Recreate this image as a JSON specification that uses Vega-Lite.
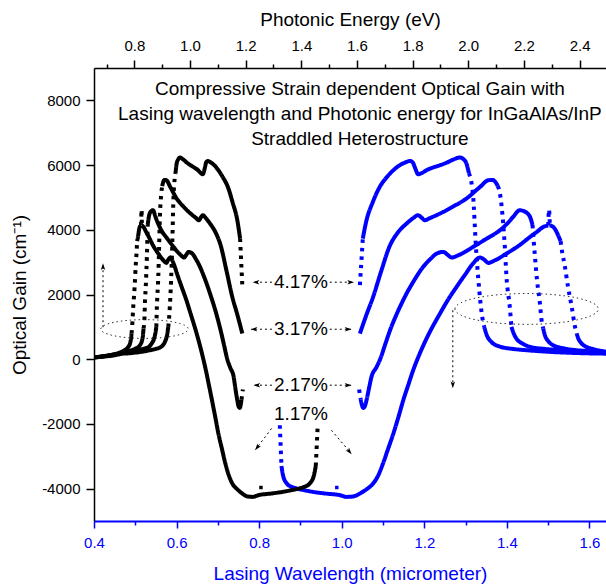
{
"$schema": "https://vega.github.io/schema/vega-lite/v6.json",
"width": 512, "height": 453,
"autosize": {"type": "none"},
"padding": {"left": 94, "top": 68, "right": 0, "bottom": 65},
"background": "white",
"config": {"font": "Liberation Sans", "view": {"stroke": null}, "axis": {"grid": false, "labelFont": "Liberation Sans", "titleFont": "Liberation Sans", "titleFontWeight": "normal", "labelFlush": false, "labelOverlap": false, "domainWidth": 1.5, "tickWidth": 1.5}},
"datasets": {
"curves": [
{"c":"4.17","k":1,"p":"steep","lam":1.044,"E":1.188,"g":2287},
{"c":"4.17","k":1,"p":"steep","lam":1.051,"E":1.180,"g":3730},
{"c":"4.17","k":2,"p":"gentle","lam":1.051,"E":1.180,"g":3730},
{"c":"4.17","k":2,"p":"gentle","lam":1.060,"E":1.170,"g":4295},
{"c":"4.17","k":2,"p":"gentle","lam":1.075,"E":1.153,"g":4850},
{"c":"4.17","k":2,"p":"gentle","lam":1.092,"E":1.136,"g":5325},
{"c":"4.17","k":2,"p":"gentle","lam":1.110,"E":1.117,"g":5640},
{"c":"4.17","k":2,"p":"gentle","lam":1.125,"E":1.102,"g":5840},
{"c":"4.17","k":2,"p":"gentle","lam":1.140,"E":1.088,"g":5990},
{"c":"4.17","k":2,"p":"gentle","lam":1.157,"E":1.072,"g":6097},
{"c":"4.17","k":2,"p":"gentle","lam":1.165,"E":1.064,"g":6128},
{"c":"4.17","k":2,"p":"gentle","lam":1.172,"E":1.058,"g":6080},
{"c":"4.17","k":2,"p":"gentle","lam":1.178,"E":1.053,"g":5900},
{"c":"4.17","k":2,"p":"gentle","lam":1.185,"E":1.046,"g":5717},
{"c":"4.17","k":2,"p":"gentle","lam":1.195,"E":1.038,"g":5760},
{"c":"4.17","k":2,"p":"gentle","lam":1.205,"E":1.029,"g":5840},
{"c":"4.17","k":2,"p":"gentle","lam":1.220,"E":1.016,"g":5920},
{"c":"4.17","k":2,"p":"gentle","lam":1.238,"E":1.002,"g":5995},
{"c":"4.17","k":2,"p":"gentle","lam":1.255,"E":0.988,"g":6080},
{"c":"4.17","k":2,"p":"gentle","lam":1.270,"E":0.976,"g":6170},
{"c":"4.17","k":2,"p":"gentle","lam":1.286,"E":0.964,"g":6233},
{"c":"4.17","k":2,"p":"gentle","lam":1.295,"E":0.958,"g":6180},
{"c":"4.17","k":2,"p":"gentle","lam":1.302,"E":0.952,"g":6047},
{"c":"4.17","k":2,"p":"gentle","lam":1.308,"E":0.948,"g":5750},
{"c":"4.17","k":3,"p":"steep","lam":1.308,"E":0.948,"g":5750},
{"c":"4.17","k":3,"p":"steep","lam":1.318,"E":0.941,"g":5068},
{"c":"4.17","k":3,"p":"steep","lam":1.325,"E":0.936,"g":3470},
{"c":"4.17","k":3,"p":"steep","lam":1.331,"E":0.932,"g":2441},
{"c":"4.17","k":3,"p":"steep","lam":1.339,"E":0.926,"g":1412},
{"c":"4.17","k":3,"p":"steep","lam":1.345,"E":0.922,"g":1000},
{"c":"4.17","k":4,"p":"gentle","lam":1.345,"E":0.922,"g":1000},
{"c":"4.17","k":4,"p":"gentle","lam":1.352,"E":0.917,"g":720},
{"c":"4.17","k":4,"p":"gentle","lam":1.362,"E":0.910,"g":540},
{"c":"4.17","k":4,"p":"gentle","lam":1.383,"E":0.897,"g":390},
{"c":"4.17","k":4,"p":"gentle","lam":1.420,"E":0.873,"g":310},
{"c":"4.17","k":4,"p":"gentle","lam":1.448,"E":0.856,"g":278},
{"c":"4.17","k":4,"p":"gentle","lam":1.500,"E":0.827,"g":230},
{"c":"4.17","k":4,"p":"gentle","lam":1.550,"E":0.800,"g":200},
{"c":"4.17","k":4,"p":"gentle","lam":1.600,"E":0.775,"g":180},
{"c":"4.17","k":4,"p":"gentle","lam":1.640,"E":0.756,"g":170},
{"c":"4.17","k":4,"p":"gentle","lam":1.700,"E":0.729,"g":120},
{"c":"4.17","k":4,"p":"gentle","lam":1.800,"E":0.689,"g":80},
{"c":"4.17","k":4,"p":"gentle","lam":1.950,"E":0.636,"g":40},

{"c":"3.17","k":1,"p":"gentle","lam":1.044,"E":1.188,"g":794},
{"c":"3.17","k":1,"p":"gentle","lam":1.060,"E":1.170,"g":1380},
{"c":"3.17","k":1,"p":"gentle","lam":1.076,"E":1.152,"g":1925},
{"c":"3.17","k":1,"p":"gentle","lam":1.095,"E":1.132,"g":2700},
{"c":"3.17","k":1,"p":"gentle","lam":1.117,"E":1.110,"g":3523},
{"c":"3.17","k":1,"p":"gentle","lam":1.135,"E":1.093,"g":3900},
{"c":"3.17","k":1,"p":"gentle","lam":1.157,"E":1.072,"g":4193},
{"c":"3.17","k":1,"p":"gentle","lam":1.172,"E":1.058,"g":4350},
{"c":"3.17","k":1,"p":"gentle","lam":1.185,"E":1.046,"g":4450},
{"c":"3.17","k":1,"p":"gentle","lam":1.193,"E":1.039,"g":4380},
{"c":"3.17","k":1,"p":"gentle","lam":1.201,"E":1.032,"g":4295},
{"c":"3.17","k":1,"p":"gentle","lam":1.215,"E":1.021,"g":4370},
{"c":"3.17","k":1,"p":"gentle","lam":1.238,"E":1.002,"g":4502},
{"c":"3.17","k":1,"p":"gentle","lam":1.270,"E":0.976,"g":4720},
{"c":"3.17","k":1,"p":"gentle","lam":1.302,"E":0.952,"g":4966},
{"c":"3.17","k":1,"p":"gentle","lam":1.335,"E":0.929,"g":5325},
{"c":"3.17","k":1,"p":"gentle","lam":1.355,"E":0.915,"g":5532},
{"c":"3.17","k":1,"p":"gentle","lam":1.365,"E":0.908,"g":5540},
{"c":"3.17","k":1,"p":"gentle","lam":1.372,"E":0.904,"g":5480},
{"c":"3.17","k":1,"p":"gentle","lam":1.378,"E":0.900,"g":5350},
{"c":"3.17","k":2,"p":"steep","lam":1.378,"E":0.900,"g":5350},
{"c":"3.17","k":2,"p":"steep","lam":1.383,"E":0.897,"g":5130},
{"c":"3.17","k":2,"p":"steep","lam":1.391,"E":0.891,"g":4193},
{"c":"3.17","k":2,"p":"steep","lam":1.395,"E":0.889,"g":3470},
{"c":"3.17","k":2,"p":"steep","lam":1.399,"E":0.886,"g":2543},
{"c":"3.17","k":2,"p":"steep","lam":1.407,"E":0.881,"g":1616},
{"c":"3.17","k":2,"p":"steep","lam":1.411,"E":0.879,"g":998},
{"c":"3.17","k":3,"p":"gentle","lam":1.411,"E":0.879,"g":998},
{"c":"3.17","k":3,"p":"gentle","lam":1.417,"E":0.875,"g":780},
{"c":"3.17","k":3,"p":"gentle","lam":1.423,"E":0.871,"g":640},
{"c":"3.17","k":3,"p":"gentle","lam":1.440,"E":0.861,"g":470},
{"c":"3.17","k":3,"p":"gentle","lam":1.456,"E":0.852,"g":380},
{"c":"3.17","k":3,"p":"gentle","lam":1.490,"E":0.832,"g":320},
{"c":"3.17","k":3,"p":"gentle","lam":1.528,"E":0.812,"g":278},
{"c":"3.17","k":3,"p":"gentle","lam":1.580,"E":0.785,"g":230},
{"c":"3.17","k":3,"p":"gentle","lam":1.640,"E":0.756,"g":190},
{"c":"3.17","k":3,"p":"gentle","lam":1.700,"E":0.729,"g":140},
{"c":"3.17","k":3,"p":"gentle","lam":1.800,"E":0.689,"g":90},
{"c":"3.17","k":3,"p":"gentle","lam":1.950,"E":0.636,"g":40},

{"c":"2.17","k":1,"p":"steep","lam":1.042,"E":1.190,"g":-937},
{"c":"2.17","k":1,"p":"steep","lam":1.046,"E":1.185,"g":-1250},
{"c":"2.17","k":2,"p":"gentle","lam":1.046,"E":1.185,"g":-1250},
{"c":"2.17","k":2,"p":"gentle","lam":1.049,"E":1.182,"g":-1420},
{"c":"2.17","k":2,"p":"gentle","lam":1.052,"E":1.179,"g":-1504},
{"c":"2.17","k":2,"p":"gentle","lam":1.056,"E":1.174,"g":-1450},
{"c":"2.17","k":2,"p":"gentle","lam":1.060,"E":1.170,"g":-1267},
{"c":"2.17","k":2,"p":"gentle","lam":1.066,"E":1.163,"g":-900},
{"c":"2.17","k":2,"p":"gentle","lam":1.072,"E":1.157,"g":-547},
{"c":"2.17","k":2,"p":"gentle","lam":1.084,"E":1.144,"g":-250},
{"c":"2.17","k":2,"p":"gentle","lam":1.093,"E":1.134,"g":0},
{"c":"2.17","k":2,"p":"gentle","lam":1.105,"E":1.122,"g":450},
{"c":"2.17","k":2,"p":"gentle","lam":1.117,"E":1.110,"g":896},
{"c":"2.17","k":2,"p":"gentle","lam":1.135,"E":1.093,"g":1450},
{"c":"2.17","k":2,"p":"gentle","lam":1.157,"E":1.072,"g":2030},
{"c":"2.17","k":2,"p":"gentle","lam":1.177,"E":1.054,"g":2470},
{"c":"2.17","k":2,"p":"gentle","lam":1.197,"E":1.036,"g":2852},
{"c":"2.17","k":2,"p":"gentle","lam":1.215,"E":1.021,"g":3100},
{"c":"2.17","k":2,"p":"gentle","lam":1.230,"E":1.008,"g":3266},
{"c":"2.17","k":2,"p":"gentle","lam":1.246,"E":0.995,"g":3316},
{"c":"2.17","k":2,"p":"gentle","lam":1.256,"E":0.987,"g":3230},
{"c":"2.17","k":2,"p":"gentle","lam":1.266,"E":0.979,"g":3143},
{"c":"2.17","k":2,"p":"gentle","lam":1.280,"E":0.969,"g":3200},
{"c":"2.17","k":2,"p":"gentle","lam":1.300,"E":0.954,"g":3330},
{"c":"2.17","k":2,"p":"gentle","lam":1.318,"E":0.941,"g":3470},
{"c":"2.17","k":2,"p":"gentle","lam":1.350,"E":0.919,"g":3720},
{"c":"2.17","k":2,"p":"gentle","lam":1.383,"E":0.897,"g":3986},
{"c":"2.17","k":2,"p":"gentle","lam":1.400,"E":0.886,"g":4180},
{"c":"2.17","k":2,"p":"gentle","lam":1.415,"E":0.876,"g":4397},
{"c":"2.17","k":2,"p":"gentle","lam":1.431,"E":0.867,"g":4604},
{"c":"2.17","k":2,"p":"gentle","lam":1.445,"E":0.858,"g":4550},
{"c":"2.17","k":2,"p":"gentle","lam":1.456,"E":0.852,"g":4397},
{"c":"2.17","k":2,"p":"gentle","lam":1.462,"E":0.848,"g":4150},
{"c":"2.17","k":3,"p":"steep","lam":1.462,"E":0.848,"g":4150},
{"c":"2.17","k":3,"p":"steep","lam":1.468,"E":0.845,"g":3161},
{"c":"2.17","k":3,"p":"steep","lam":1.473,"E":0.842,"g":2441},
{"c":"2.17","k":3,"p":"steep","lam":1.480,"E":0.838,"g":1721},
{"c":"2.17","k":3,"p":"steep","lam":1.484,"E":0.836,"g":1205},
{"c":"2.17","k":3,"p":"steep","lam":1.488,"E":0.833,"g":950},
{"c":"2.17","k":4,"p":"gentle","lam":1.488,"E":0.833,"g":950},
{"c":"2.17","k":4,"p":"gentle","lam":1.492,"E":0.831,"g":742},
{"c":"2.17","k":4,"p":"gentle","lam":1.500,"E":0.827,"g":560},
{"c":"2.17","k":4,"p":"gentle","lam":1.512,"E":0.820,"g":433},
{"c":"2.17","k":4,"p":"gentle","lam":1.540,"E":0.805,"g":330},
{"c":"2.17","k":4,"p":"gentle","lam":1.569,"E":0.790,"g":278},
{"c":"2.17","k":4,"p":"gentle","lam":1.600,"E":0.775,"g":250},
{"c":"2.17","k":4,"p":"gentle","lam":1.640,"E":0.756,"g":210},
{"c":"2.17","k":4,"p":"gentle","lam":1.700,"E":0.729,"g":150},
{"c":"2.17","k":4,"p":"gentle","lam":1.800,"E":0.689,"g":90},
{"c":"2.17","k":4,"p":"gentle","lam":1.950,"E":0.636,"g":40},

{"c":"1.17","k":1,"p":"steep","lam":0.850,"E":1.459,"g":-2040},
{"c":"1.17","k":1,"p":"steep","lam":0.854,"E":1.452,"g":-3300},
{"c":"1.17","k":2,"p":"gentle","lam":0.854,"E":1.452,"g":-3300},
{"c":"1.17","k":2,"p":"gentle","lam":0.858,"E":1.445,"g":-3600},
{"c":"1.17","k":2,"p":"gentle","lam":0.867,"E":1.430,"g":-3842},
{"c":"1.17","k":2,"p":"gentle","lam":0.880,"E":1.409,"g":-3950},
{"c":"1.17","k":2,"p":"gentle","lam":0.891,"E":1.392,"g":-3996},
{"c":"1.17","k":2,"p":"gentle","lam":0.910,"E":1.363,"g":-4050},
{"c":"1.17","k":2,"p":"gentle","lam":0.931,"E":1.332,"g":-4101},
{"c":"1.17","k":2,"p":"gentle","lam":0.960,"E":1.292,"g":-4150},
{"c":"1.17","k":2,"p":"gentle","lam":0.996,"E":1.245,"g":-4203},
{"c":"1.17","k":2,"p":"gentle","lam":1.012,"E":1.225,"g":-4255},
{"c":"1.17","k":2,"p":"gentle","lam":1.028,"E":1.206,"g":-4240},
{"c":"1.17","k":2,"p":"gentle","lam":1.044,"E":1.188,"g":-4152},
{"c":"1.17","k":2,"p":"gentle","lam":1.060,"E":1.170,"g":-4020},
{"c":"1.17","k":2,"p":"gentle","lam":1.076,"E":1.152,"g":-3842},
{"c":"1.17","k":2,"p":"gentle","lam":1.088,"E":1.140,"g":-3600},
{"c":"1.17","k":2,"p":"gentle","lam":1.100,"E":1.127,"g":-3220},
{"c":"1.17","k":2,"p":"gentle","lam":1.112,"E":1.115,"g":-2780},
{"c":"1.17","k":2,"p":"gentle","lam":1.125,"E":1.102,"g":-2296},
{"c":"1.17","k":2,"p":"gentle","lam":1.137,"E":1.091,"g":-1800},
{"c":"1.17","k":2,"p":"gentle","lam":1.149,"E":1.079,"g":-1267},
{"c":"1.17","k":2,"p":"gentle","lam":1.161,"E":1.068,"g":-800},
{"c":"1.17","k":2,"p":"gentle","lam":1.173,"E":1.057,"g":-340},
{"c":"1.17","k":2,"p":"gentle","lam":1.189,"E":1.043,"g":176},
{"c":"1.17","k":2,"p":"gentle","lam":1.210,"E":1.025,"g":760},
{"c":"1.17","k":2,"p":"gentle","lam":1.238,"E":1.002,"g":1412},
{"c":"1.17","k":2,"p":"gentle","lam":1.258,"E":0.986,"g":1850},
{"c":"1.17","k":2,"p":"gentle","lam":1.278,"E":0.970,"g":2234},
{"c":"1.17","k":2,"p":"gentle","lam":1.298,"E":0.955,"g":2600},
{"c":"1.17","k":2,"p":"gentle","lam":1.318,"E":0.941,"g":2957},
{"c":"1.17","k":2,"p":"gentle","lam":1.335,"E":0.929,"g":3143},
{"c":"1.17","k":2,"p":"gentle","lam":1.345,"E":0.922,"g":3080},
{"c":"1.17","k":2,"p":"gentle","lam":1.355,"E":0.915,"g":2977},
{"c":"1.17","k":2,"p":"gentle","lam":1.370,"E":0.905,"g":3050},
{"c":"1.17","k":2,"p":"gentle","lam":1.399,"E":0.886,"g":3266},
{"c":"1.17","k":2,"p":"gentle","lam":1.430,"E":0.867,"g":3520},
{"c":"1.17","k":2,"p":"gentle","lam":1.456,"E":0.852,"g":3779},
{"c":"1.17","k":2,"p":"gentle","lam":1.475,"E":0.841,"g":3960},
{"c":"1.17","k":2,"p":"gentle","lam":1.488,"E":0.833,"g":4088},
{"c":"1.17","k":2,"p":"gentle","lam":1.500,"E":0.827,"g":4130},
{"c":"1.17","k":3,"p":"steep","lam":1.500,"E":0.827,"g":4130},
{"c":"1.17","k":3,"p":"steep","lam":1.502,"E":0.826,"g":4620},
{"c":"1.17","k":3,"p":"steep","lam":1.504,"E":0.824,"g":4140},
{"c":"1.17","k":4,"p":"gentle","lam":1.504,"E":0.824,"g":4140},
{"c":"1.17","k":4,"p":"gentle","lam":1.515,"E":0.818,"g":4050},
{"c":"1.17","k":4,"p":"gentle","lam":1.524,"E":0.814,"g":3832},
{"c":"1.17","k":4,"p":"gentle","lam":1.530,"E":0.810,"g":3650},
{"c":"1.17","k":5,"p":"steep","lam":1.530,"E":0.810,"g":3650},
{"c":"1.17","k":5,"p":"steep","lam":1.534,"E":0.808,"g":3300},
{"c":"1.17","k":5,"p":"steep","lam":1.540,"E":0.805,"g":2900},
{"c":"1.17","k":5,"p":"steep","lam":1.548,"E":0.801,"g":2234},
{"c":"1.17","k":5,"p":"steep","lam":1.557,"E":0.796,"g":1616},
{"c":"1.17","k":5,"p":"steep","lam":1.565,"E":0.792,"g":998},
{"c":"1.17","k":5,"p":"steep","lam":1.569,"E":0.790,"g":800},
{"c":"1.17","k":6,"p":"gentle","lam":1.569,"E":0.790,"g":800},
{"c":"1.17","k":6,"p":"gentle","lam":1.573,"E":0.788,"g":640},
{"c":"1.17","k":6,"p":"gentle","lam":1.580,"E":0.785,"g":500},
{"c":"1.17","k":6,"p":"gentle","lam":1.593,"E":0.778,"g":380},
{"c":"1.17","k":6,"p":"gentle","lam":1.610,"E":0.770,"g":310},
{"c":"1.17","k":6,"p":"gentle","lam":1.637,"E":0.757,"g":240},
{"c":"1.17","k":6,"p":"gentle","lam":1.700,"E":0.729,"g":160},
{"c":"1.17","k":6,"p":"gentle","lam":1.800,"E":0.689,"g":95},
{"c":"1.17","k":6,"p":"gentle","lam":1.950,"E":0.636,"g":45}
],
"dots": [{"lam":0.988,"E":1.255,"g":-3965}],
"titles": [
{"t":"Compressive Strain dependent Optical Gain with","lam":1.044,"g":8159},
{"t":"Lasing wavelength and Photonic energy for InGaAlAs/InP","lam":1.044,"g":7386},
{"t":"Straddled Heterostructure","lam":1.044,"g":6614}
],
"pct": [
{"t":"4.17%","lam":0.901,"g":2380},
{"t":"3.17%","lam":0.901,"g":927},
{"t":"2.17%","lam":0.901,"g":-803},
{"t":"1.17%","lam":0.901,"g":-1700}
],
"arrows": [
{"lam":0.831,"g":2380,"lam2":0.786,"g2":2380},
{"lam":0.971,"g":2380,"lam2":1.028,"g2":2380},
{"lam":0.831,"g":927,"lam2":0.781,"g2":927},
{"lam":0.971,"g":927,"lam2":1.022,"g2":927},
{"lam":0.831,"g":-803,"lam2":0.788,"g2":-803},
{"lam":0.971,"g":-803,"lam2":1.022,"g2":-803},
{"lam":0.830,"g":-2142,"lam2":0.792,"g2":-2780},
{"lam":0.975,"g":-2194,"lam2":1.022,"g2":-2900},
{"lam":0.4218,"g":989,"lam2":0.4218,"g2":2900},
{"lam":1.269,"g":1514,"lam2":1.269,"g2":-830}
],
"heads": [
{"lam":0.784,"g":2380,"dir":"left"},
{"lam":1.030,"g":2380,"dir":"right"},
{"lam":0.779,"g":927,"dir":"left"},
{"lam":1.024,"g":927,"dir":"right"},
{"lam":0.786,"g":-803,"dir":"left"},
{"lam":1.024,"g":-803,"dir":"right"},
{"lam":0.790,"g":-2812,"dir":"downleft"},
{"lam":1.024,"g":-2936,"dir":"downright"},
{"lam":0.4218,"g":2967,"dir":"up"},
{"lam":1.269,"g":-896,"dir":"down"}
]
},
"layer": [
 {"data": {"name": "curves"},
  "mark": {"type": "line", "color": "#0000FF", "strokeWidth": 4, "strokeCap": "butt", "interpolate": "monotone", "clip": true},
  "encoding": {
   "x": {"field": "lam", "type": "quantitative", "scale": {"domain": [0.4, 1.64], "nice": false, "zero": false},
     "axis": {"orient": "bottom", "title": "Lasing Wavelength (micrometer)", "values": [0.4,0.5,0.6,0.7,0.8,0.9,1.0,1.1,1.2,1.3,1.4,1.5,1.6],
       "labelExpr": "round(datum.value*10) % 2 === 0 ? format(datum.value, '.1f') : ''",
       "tickSize": {"condition": {"test": "round(datum.value*10) % 2 === 0", "value": 7}, "value": 4},
       "domainColor": "#0000FF", "tickColor": "#0000FF", "labelColor": "#0000FF", "titleColor": "#0000FF",
       "domainWidth": 2, "labelFontSize": 15, "titleFontSize": 19, "labelPadding": 7, "titlePadding": 14}},
   "y": {"field": "g", "type": "quantitative", "scale": {"domain": [-5000, 9000], "nice": false, "zero": false},
     "axis": {"orient": "left", "title": "Optical Gain (cm⁻¹)", "values": [-4000,-3000,-2000,-1000,0,1000,2000,3000,4000,5000,6000,7000,8000],
       "labelExpr": "datum.value % 2000 === 0 ? '' + datum.value : ''",
       "tickSize": {"condition": {"test": "datum.value % 2000 === 0", "value": 8}, "value": 4},
       "domainColor": "#000", "tickColor": "#000", "labelColor": "#000", "titleColor": "#000",
       "labelFontSize": 15, "titleFontSize": 19, "labelPadding": 6, "titlePadding": 12}},
   "detail": [{"field": "c", "type": "nominal"}, {"field": "k", "type": "nominal"}],
   "strokeDash": {"field": "p", "type": "nominal", "scale": {"domain": ["gentle", "steep"], "range": [[1, 0], [3.5, 5]]}, "legend": null}
  }},
 {"data": {"name": "curves"},
  "mark": {"type": "line", "color": "#000000", "strokeWidth": 4, "strokeCap": "butt", "interpolate": "monotone", "clip": true},
  "encoding": {
   "x": {"field": "E", "type": "quantitative", "scale": {"domain": [0.655, 2.495], "nice": false, "zero": false},
     "axis": {"orient": "top", "title": "Photonic Energy (eV)", "values": [0.7,0.8,0.9,1.0,1.1,1.2,1.3,1.4,1.5,1.6,1.7,1.8,1.9,2.0,2.1,2.2,2.3,2.4],
       "labelExpr": "round(datum.value*10) % 2 === 0 ? format(datum.value, '.1f') : ''",
       "tickSize": {"condition": {"test": "round(datum.value*10) % 2 === 0", "value": 8}, "value": 4},
       "domainColor": "#000", "tickColor": "#000", "labelColor": "#000", "titleColor": "#000",
       "labelFontSize": 15, "titleFontSize": 19, "labelPadding": 7, "titlePadding": 9}},
   "y": {"field": "g", "type": "quantitative", "scale": {"domain": [-5000, 9000], "nice": false, "zero": false}},
   "detail": [{"field": "c", "type": "nominal"}, {"field": "k", "type": "nominal"}],
   "strokeDash": {"field": "p", "type": "nominal", "scale": {"domain": ["gentle", "steep"], "range": [[1, 0], [3.5, 5]]}, "legend": null}
  }},
 {"data": {"name": "dots"},
  "mark": {"type": "point", "shape": "square", "filled": true, "color": "#0000FF", "size": 12, "opacity": 1},
  "encoding": {
   "x": {"field": "lam", "type": "quantitative", "scale": {"domain": [0.4, 1.64], "nice": false, "zero": false}, "axis": null},
   "y": {"field": "g", "type": "quantitative", "scale": {"domain": [-5000, 9000], "nice": false, "zero": false}}
  }},
 {"data": {"name": "dots"},
  "mark": {"type": "point", "shape": "square", "filled": true, "color": "#000", "size": 12, "opacity": 1},
  "encoding": {
   "x": {"field": "E", "type": "quantitative", "scale": {"domain": [0.655, 2.495], "nice": false, "zero": false}, "axis": null},
   "y": {"field": "g", "type": "quantitative", "scale": {"domain": [-5000, 9000], "nice": false, "zero": false}}
  }},
 {"data": {"name": "titles"},
  "mark": {"type": "text", "fontSize": 19, "align": "center", "baseline": "alphabetic", "font": "Liberation Sans", "color": "#000"},
  "encoding": {
   "x": {"field": "lam", "type": "quantitative", "scale": {"domain": [0.4, 1.64], "nice": false, "zero": false}, "axis": null},
   "y": {"field": "g", "type": "quantitative", "scale": {"domain": [-5000, 9000], "nice": false, "zero": false}},
   "text": {"field": "t"}
  }},
 {"data": {"name": "pct"},
  "mark": {"type": "text", "fontSize": 19, "align": "center", "baseline": "middle", "font": "Liberation Sans", "color": "#000"},
  "encoding": {
   "x": {"field": "lam", "type": "quantitative", "scale": {"domain": [0.4, 1.64], "nice": false, "zero": false}, "axis": null},
   "y": {"field": "g", "type": "quantitative", "scale": {"domain": [-5000, 9000], "nice": false, "zero": false}},
   "text": {"field": "t"}
  }},
 {"data": {"name": "arrows"},
  "mark": {"type": "rule", "color": "#000", "strokeWidth": 1, "strokeDash": [2, 3]},
  "encoding": {
   "x": {"field": "lam", "type": "quantitative", "scale": {"domain": [0.4, 1.64], "nice": false, "zero": false}, "axis": null},
   "x2": {"field": "lam2"},
   "y": {"field": "g", "type": "quantitative", "scale": {"domain": [-5000, 9000], "nice": false, "zero": false}},
   "y2": {"field": "g2"}
  }},
 {"data": {"name": "heads"},
  "mark": {"type": "point", "shape": "M0,0L0.55,1.7L0,1.3L-0.55,1.7Z", "filled": true, "color": "#000", "size": 64, "opacity": 1, "strokeWidth": 0},
  "encoding": {
   "x": {"field": "lam", "type": "quantitative", "scale": {"domain": [0.4, 1.64], "nice": false, "zero": false}, "axis": null},
   "y": {"field": "g", "type": "quantitative", "scale": {"domain": [-5000, 9000], "nice": false, "zero": false}},
   "angle": {"field": "dir", "type": "nominal", "scale": {"type": "ordinal", "domain": ["up", "right", "down", "left", "downleft", "downright"], "range": [0, 90, 180, 270, 217.6, 140.2]}, "legend": null}
  }},
 {"data": {"values": [{"lam": 0.5223, "g": 933}]},
  "mark": {"type": "point", "shape": "M-1,0C-1,-0.119,-0.552,-0.215,0,-0.215C0.552,-0.215,1,-0.119,1,0C1,0.119,0.552,0.215,0,0.215C-0.552,0.215,-1,0.119,-1,0Z", "filled": false, "size": 7639, "color": "#333", "strokeWidth": 1, "strokeDash": [1.5, 3], "opacity": 1},
  "encoding": {
   "x": {"field": "lam", "type": "quantitative", "scale": {"domain": [0.4, 1.64], "nice": false, "zero": false}, "axis": null},
   "y": {"field": "g", "type": "quantitative", "scale": {"domain": [-5000, 9000], "nice": false, "zero": false}}
  }},
 {"data": {"values": [{"lam": 1.4477, "g": 1554}]},
  "mark": {"type": "point", "shape": "M-1,0C-1,-0.119,-0.552,-0.215,0,-0.215C0.552,-0.215,1,-0.119,1,0C1,0.119,0.552,0.215,0,0.215C-0.552,0.215,-1,0.119,-1,0Z", "filled": false, "size": 20564, "color": "#333", "strokeWidth": 1, "strokeDash": [1.5, 3], "opacity": 1},
  "encoding": {
   "x": {"field": "lam", "type": "quantitative", "scale": {"domain": [0.4, 1.64], "nice": false, "zero": false}, "axis": null},
   "y": {"field": "g", "type": "quantitative", "scale": {"domain": [-5000, 9000], "nice": false, "zero": false}}
  }}
],
"resolve": {"scale": {"x": "independent"}, "axis": {"x": "independent"}}
}
